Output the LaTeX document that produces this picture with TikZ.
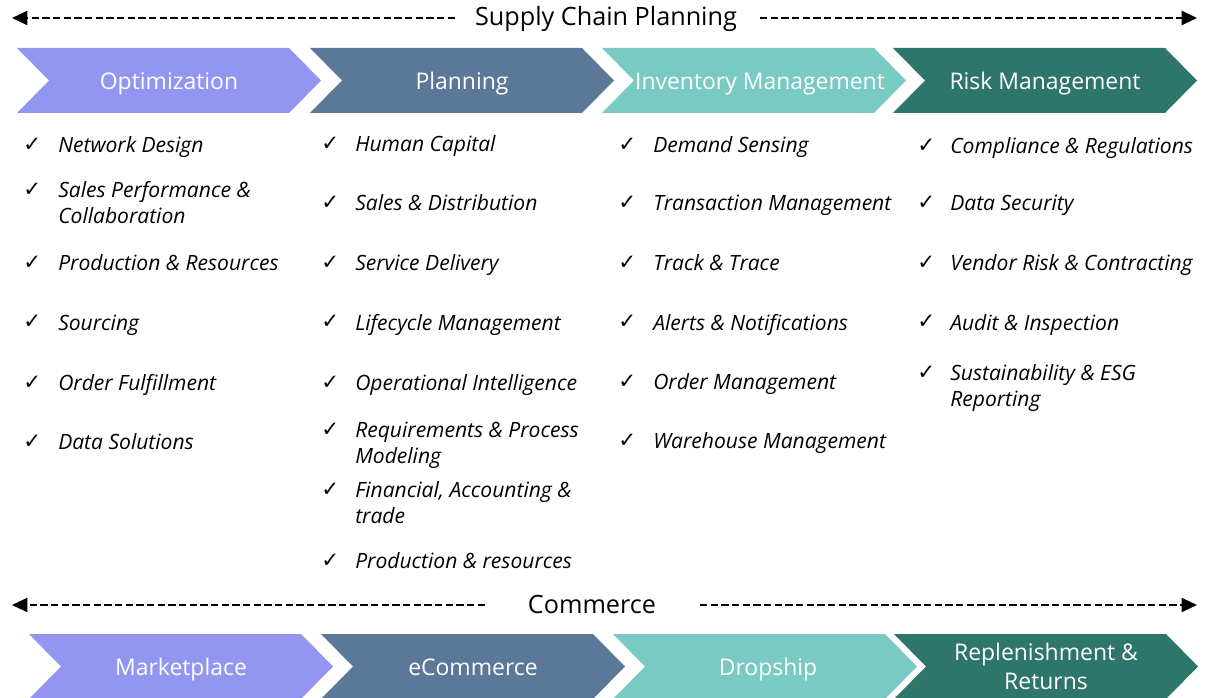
\documentclass[tikz,border=0pt]{standalone}
\usepackage{fontspec}
\setmainfont{Open Sans}
\newfontfamily\chkfont{DejaVu Sans}
\usetikzlibrary{arrows.meta}
\definecolor{copt}{HTML}{9396F1}
\definecolor{cplan}{HTML}{5B7899}
\definecolor{cinv}{HTML}{79CAC2}
\definecolor{crisk}{HTML}{2E756B}
\tikzset{
  chevlabel/.style={text=white, font=\fontsize{17.2}{21.75}\selectfont, align=center, inner sep=0pt},
  chevone/.style={chevlabel, anchor=base},
  itemtext/.style={anchor=base west, inner sep=0pt, font=\fontsize{15.8}{19.5}\selectfont\itshape, align=left},
  chkmark/.style={anchor=base west, inner sep=0pt, font=\chkfont\fontsize{16}{16}\selectfont},
  dasharrow/.style={line width=1.5pt, dash pattern=on 5.5pt off 2.5pt, -{Triangle[length=11.5pt,width=10.5pt]}},
  headtext/.style={font=\fontsize{18.9}{22}\selectfont, inner sep=0pt, anchor=base}
}
% x0, ytop, colour, name, text, label x shift
\newcommand\chevron[6]{%
  \fill[#3] (#1,#2) -- ++(272,0) -- ++(32,32.5) -- ++(-32,32.5) -- ++(-272,0) -- ++(32,-32.5) -- cycle;
  \node[chevone] (#4) at ({#1+152+#6},{#2+41.5}) {#5};
}
% name, xcheck, xtext, baseline of first line, baseline of last line, text
\newcommand\chk[6]{%
  \node[chkmark] (#1m) at (#2,{#4-1}) {✓};
  \node[itemtext] (#1) at (#3,#5) {#6};
}
\begin{document}
\begin{tikzpicture}[x=0.75pt,y=-0.75pt]
\useasboundingbox (0,0) rectangle (1209,698);

% header
\node[headtext] (scp) at (606,26) {Supply Chain Planning};
\coordinate (scpL1) at (455,18); \coordinate (scpL2) at (12,18);
\coordinate (scpR1) at (760,18); \coordinate (scpR2) at (1197,18);
\draw[dasharrow] (scpL1) -- (scpL2);
\draw[dasharrow] (scpR1) -- (scpR2);

% top chevrons
\chevron{17}{48}{copt}{opt}{Optimization}{0}
\chevron{310}{48}{cplan}{plan}{Planning}{0}
\chevron{602}{48}{cinv}{inv}{Inventory Management}{6}
\chevron{893}{48}{crisk}{risk}{Risk Management}{0}

% column 1
\chk{a1}{23}{58}{153}{153}{Network Design}
\chk{a2}{23}{58}{198}{224}{Sales Performance \&\\Collaboration}
\chk{a3}{23}{58}{271}{271}{Production \& Resources}
\chk{a4}{23}{58}{330}{330}{Sourcing}
\chk{a5}{23}{58}{390}{390}{Order Fulfillment}
\chk{a6}{23}{58}{449}{449}{Data Solutions}

% column 2
\chk{b1}{321}{355}{152}{152}{Human Capital}
\chk{b2}{321}{355}{211}{211}{Sales \& Distribution}
\chk{b3}{321}{355}{271}{271}{Service Delivery}
\chk{b4}{321}{355}{330}{330}{Lifecycle Management}
\chk{b5}{321}{355}{390}{390}{Operational Intelligence}
\chk{b6}{321}{355}{437}{463}{Requirements \& Process\\Modeling}
\chk{b7}{321}{355}{497}{523}{Financial, Accounting \&\\trade}
\chk{b8}{321}{355}{568}{568}{Production \& resources}

% column 3
\chk{c1}{618}{653}{153}{153}{Demand Sensing}
\chk{c2}{618}{653}{211}{211}{Transaction Management}
\chk{c3}{618}{653}{271}{271}{Track \& Trace}
\chk{c4}{618}{653}{330}{330}{Alerts \& Notifications}
\chk{c5}{618}{653}{389}{389}{Order Management}
\chk{c6}{618}{653}{448}{448}{Warehouse Management}

% column 4
\chk{d1}{917}{950}{154}{154}{Compliance \& Regulations}
\chk{d2}{917}{950}{211}{211}{Data Security}
\chk{d3}{917}{950}{271}{271}{Vendor Risk \& Contracting}
\chk{d4}{917}{950}{330}{330}{Audit \& Inspection}
\chk{d5}{917}{950}{380}{406}{Sustainability \& ESG\\Reporting}

% commerce header
\node[headtext] (com) at (592,613) {Commerce};
\coordinate (comL1) at (485,605); \coordinate (comL2) at (12,605);
\coordinate (comR1) at (700,605); \coordinate (comR2) at (1197,605);
\draw[dasharrow] (comL1) -- (comL2);
\draw[dasharrow] (comR1) -- (comR2);

% bottom chevrons
\chevron{29}{634}{copt}{mkt}{Marketplace}{0}
\chevron{321}{634}{cplan}{ecom}{eCommerce}{0}
\chevron{613}{634}{cinv}{drop}{Dropship}{3}
\fill[crisk] (894,634) -- ++(272,0) -- ++(32,32.5) -- ++(-32,32.5) -- ++(-272,0) -- ++(32,-32.5) -- cycle;
\node[chevlabel] (repl) at (1046,666) {Replenishment \&\\Returns};
\end{tikzpicture}
\end{document}
